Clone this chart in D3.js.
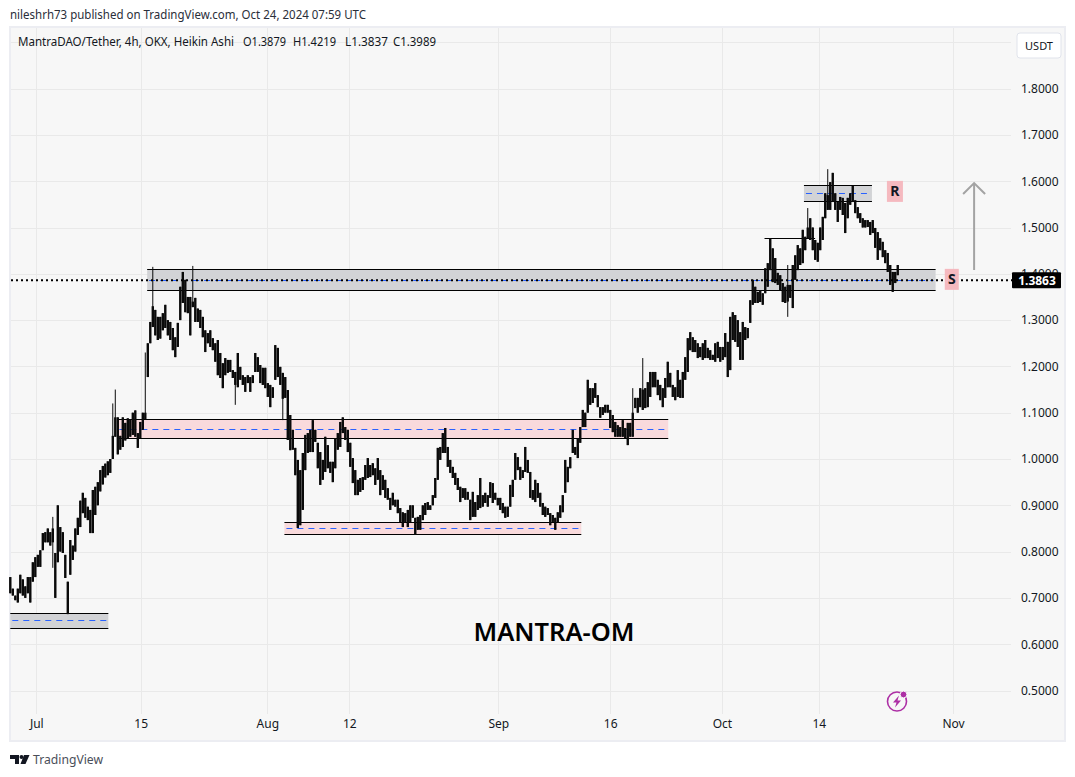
<!DOCTYPE html>
<html><head><meta charset="utf-8">
<script src="https://cdn.jsdelivr.net/npm/d3@7"></script>
<style>html,body{margin:0;padding:0;background:#fff}svg{display:block}text{font-family:"Noto Sans",sans-serif;fill:#131722}</style>
</head><body><svg id="c" width="1075" height="777"></svg>
<script>
const titleText = "nileshrh73 published on TradingView.com, Oct 24, 2024 07:59 UTC";
const legendText = "MantraDAO/Tether, 4h, OKX, Heikin Ashi";
const legendValues = ["O1.3879","H1.4219","L1.3837","C1.3989"];
const priceTicks = [1.8,1.7,1.6,1.5,1.4,1.3,1.2,1.1,1.0,0.9,0.8,0.7,0.6,0.5];
const gridPrices = [1.9].concat(priceTicks);
const dateTicks = ["2024-07-01","2024-07-15","2024-08-01","2024-08-12","2024-09-01","2024-09-16","2024-10-01","2024-10-14","2024-11-01"];
const dateLabels = ["Jul","15","Aug","12","Sep","16","Oct","14","Nov"];
const lastPrice = 1.3863;
const highs = [
.745,.72,.705,.72,.75,.74,.725,.745,.745,.777,
.788,.793,.803,.84,.842,.85,.842,.875,.797,.90,
.853,.842,.793,.735,.825,.813,.85,.873,.91,.927,
.916,.897,.89,.933,.94,.95,.976,.985,.99,.995,
1.0,1.12,1.15,1.09,1.05,1.09,1.078,1.088,1.085,1.10,
1.105,1.056,1.08,1.10,1.23,1.25,1.296,1.415,1.322,1.307,
1.307,1.315,1.333,1.30,1.296,1.283,1.263,1.294,1.372,1.404,
1.387,1.35,1.35,1.417,1.348,1.325,1.322,1.307,1.278,1.272,
1.278,1.261,1.25,1.257,1.229,1.207,1.218,1.214,1.214,1.192,
1.188,1.229,1.199,1.181,1.177,1.181,1.177,1.181,1.229,1.22,
1.203,1.197,1.197,1.164,1.16,1.155,1.246,1.24,1.199,1.186,
1.177,1.149,1.095,1.063,1.024,.998,.976,1.013,1.052,1.056,
1.063,1.084,1.063,1.035,1.015,.998,1.048,1.03,.994,.994,
1.045,1.056,1.08,1.09,1.069,1.063,1.035,1.002,.976,.955,
.959,.961,.987,1.002,.987,.991,.98,1.002,.976,.965,
.955,.937,.916,.927,.912,.912,.894,.885,.883,.89,
.90,.90,.873,.875,.879,.90,.905,.907,.90,.922,
.959,1.024,1.026,1.056,1.067,1.026,.998,.983,.97,.959,
.94,.937,.937,.929,.912,.929,.907,.922,.959,.922,
.927,.922,.95,.948,.927,.916,.916,.905,.897,.897,
.944,.955,1.013,1.004,.983,.976,1.026,.998,.972,.933,
.955,.948,.927,.905,.897,.894,.883,.879,.873,.885,
.90,.922,.998,.983,1.004,1.063,1.026,1.045,1.069,1.106,
1.10,1.171,1.153,1.153,1.164,1.138,1.112,1.112,1.117,1.117,
1.106,1.095,1.08,1.073,1.069,1.084,1.067,1.078,1.078,1.153,
1.132,1.132,1.153,1.218,1.153,1.166,1.188,1.188,1.188,1.171,
1.16,1.153,1.175,1.21,1.186,1.16,1.155,1.192,1.171,1.188,
1.22,1.261,1.274,1.263,1.257,1.25,1.242,1.25,1.257,1.24,
1.235,1.225,1.25,1.253,1.242,1.242,1.272,1.253,1.307,1.317,
1.311,1.30,1.274,1.296,1.285,1.283,1.343,1.387,1.372,1.361,
1.365,1.358,1.412,1.423,1.477,1.455,1.434,1.402,1.397,1.38,
1.372,1.419,1.376,1.419,1.44,1.462,1.455,1.495,1.48,1.542,
1.52,1.50,1.473,1.467,1.50,1.523,1.574,1.626,1.598,1.618,
1.574,1.555,1.566,1.564,1.553,1.564,1.574,1.59,1.559,1.544,
1.531,1.52,1.516,1.516,1.512,1.516,1.499,1.49,1.477,1.469,
1.451,1.445,1.419,1.404,1.404,1.419];
const lows = [
.71,.705,.695,.69,.71,.705,.70,.71,.69,.735,
.745,.767,.767,.803,.82,.82,.813,.765,.70,.777,
.80,.797,.743,.665,.75,.782,.80,.836,.853,.883,
.873,.868,.84,.84,.879,.90,.93,.945,.96,.965,
.97,1.0,1.048,1.01,1.02,1.026,1.04,1.045,1.048,1.052,
1.048,1.024,1.045,1.063,1.085,1.177,1.25,1.285,1.267,1.257,
1.26,1.278,1.283,1.267,1.257,1.235,1.22,1.242,1.30,1.337,
1.317,1.315,1.267,1.328,1.296,1.296,1.283,1.263,1.231,1.25,
1.242,1.235,1.21,1.181,1.175,1.153,1.181,1.186,1.188,1.175,
1.117,1.155,1.171,1.16,1.145,1.164,1.145,1.164,1.188,1.188,
1.164,1.16,1.153,1.134,1.112,1.132,1.171,1.177,1.16,1.084,
1.132,1.041,1.019,1.02,.965,.851,.857,.89,.976,1.013,
1.015,1.015,1.037,.98,.944,.955,.972,.98,.97,.95,
.98,1.02,1.026,1.056,1.041,1.015,.983,.948,.922,.922,
.929,.933,.955,.959,.961,.965,.944,.955,.922,.933,
.916,.912,.89,.90,.897,.883,.864,.853,.862,.853,
.864,.873,.836,.847,.847,.868,.879,.89,.89,.90,
.916,.955,.998,1.013,1.013,.983,.97,.959,.944,.933,
.907,.916,.912,.912,.868,.875,.875,.89,.894,.897,
.905,.897,.916,.905,.912,.90,.89,.883,.873,.875,
.897,.918,.955,.976,.955,.959,.972,.97,.916,.912,
.907,.916,.897,.879,.875,.879,.857,.864,.847,.862,
.873,.885,.927,.95,.98,1.013,1.009,1.002,1.035,1.069,
1.069,1.10,1.117,1.121,1.132,1.112,1.089,1.095,1.10,1.10,
1.067,1.058,1.048,1.048,1.048,1.048,1.045,1.03,1.048,1.048,
1.11,1.10,1.112,1.106,1.11,1.112,1.134,1.155,1.155,1.138,
1.127,1.112,1.132,1.155,1.155,1.134,1.127,1.134,1.132,1.132,
1.171,1.188,1.235,1.231,1.231,1.218,1.22,1.214,1.218,1.218,
1.214,1.214,1.21,1.218,1.21,1.214,1.22,1.177,1.192,1.257,
1.253,1.242,1.214,1.214,1.257,1.261,1.294,1.333,1.337,1.337,
1.339,1.333,1.358,1.372,1.408,1.382,1.38,1.376,1.365,1.339,
1.337,1.307,1.348,1.326,1.387,1.408,1.419,1.423,1.451,1.477,
1.473,1.451,1.43,1.426,1.451,1.473,1.52,1.538,1.538,1.555,
1.538,1.512,1.538,1.527,1.488,1.52,1.549,1.555,1.531,1.52,
1.51,1.50,1.50,1.501,1.484,1.488,1.456,1.43,1.451,1.436,
1.423,1.404,1.376,1.361,1.38,1.397];
// bars whose range is mostly a thin wick: index, top of body, bottom of body
const wickBars = [17,41,42,54,57,73,90,109,249,253,311,319,327];
const wickBodyTops = [.85,1.05,1.09,1.10,1.33,1.34,1.188,1.186,1.10,1.15,1.376,1.50,1.57];
const wickBodyBottoms = [.82,1.0,1.048,1.085,1.285,1.328,1.16,1.13,1.048,1.106,1.34,1.477,1.538];
const firstBar = Date.UTC(2024,5,27,12,17), barHours = 8.05;
const zoneStarts = ["2024-07-15T21:00Z","2024-10-12T00:00Z","2024-07-11T21:00Z","2024-08-03T07:00Z","2024-06-27T12:17Z"];
const zoneEnds = ["2024-10-29T16:00Z","2024-10-21T03:00Z","2024-09-23T19:00Z","2024-09-12T03:00Z","2024-07-10T16:00Z"];
const zoneTops = [1.41,1.592,1.086,.864,.667];
const zoneMids = [1.387,1.575,1.065,.851,.652];
const zoneBottoms = [1.365,1.557,1.045,.838,.635];
const zoneKinds = ["grey","grey","pink","pink","grey"];
const zoneFill = {grey:"#d2d3d6",pink:"#f9dadc"};

const svg = d3.select("#c");
const x = d3.scaleUtc().domain([new Date("2024-07-01"),new Date("2024-11-01")]).range([36.3,953]);
const y = d3.scaleLinear().domain([1,1.8]).range([459,88.6]);
const py = p => Math.round(y(p))+.5;
const barX = i => x(new Date(firstBar+i*barHours*36e5));

svg.append("text").attr("x",10).attr("y",19).attr("font-size",12).attr("textLength",356).attr("lengthAdjust","spacingAndGlyphs").style("fill","#2a2e39").text(titleText);
svg.append("rect").attr("x",10).attr("y",27).attr("width",1055).attr("height",714).attr("fill","#f7f7f7").attr("stroke","#ecedf2").attr("stroke-width",2);

const grid = svg.append("g").attr("stroke","#e9e9e9").attr("stroke-width",1);
grid.selectAll(".h").data(gridPrices).join("line").attr("x1",11).attr("x2",1011).attr("y1",py).attr("y2",py);
grid.selectAll(".v").data(dateTicks).join("line").attr("x1",d=>Math.round(x(new Date(d)))+.5).attr("x2",d=>Math.round(x(new Date(d)))+.5).attr("y1",28).attr("y2",714);

const zones = zoneStarts.map((s,i)=>({x0:x(new Date(s)),x1:x(new Date(zoneEnds[i])),t:py(zoneTops[i]),m:py(zoneMids[i]),b:py(zoneBottoms[i]),k:zoneKinds[i]}));
const zg = svg.append("g");
zg.selectAll("rect").data(zones).join("rect").attr("x",d=>d.x0).attr("width",d=>d.x1-d.x0).attr("y",d=>d.t).attr("height",d=>d.b-d.t).attr("fill",d=>zoneFill[d.k]);
zg.selectAll(".m").data(zones).join("line").attr("x1",d=>d.x0+2).attr("x2",d=>d.x1-2).attr("y1",d=>d.m).attr("y2",d=>d.m).attr("stroke","#2962ff").attr("stroke-dasharray","6 5");
["t","b"].forEach(k=>{zg.selectAll(".e"+k).data(zones).join("line").attr("x1",d=>d.x0).attr("x2",d=>d.x1).attr("y1",d=>d[k]).attr("y2",d=>d[k]).attr("stroke","#000").attr("stroke-width",1.2);});

svg.append("line").attr("x1",x(new Date("2024-10-06T17:00Z"))).attr("x2",x(new Date("2024-10-13T12:00Z"))).attr("y1",py(1.477)).attr("y2",py(1.477)).attr("stroke","#000").attr("stroke-width",1.2);

const bodyTop = highs.slice(), bodyBottom = lows.slice();
wickBars.forEach((b,i)=>{bodyTop[b]=wickBodyTops[i];bodyBottom[b]=wickBodyBottoms[i];});
svg.append("g").attr("stroke","#0a0a0a").attr("stroke-width",1).selectAll("line").data(highs).join("line")
 .attr("x1",(d,i)=>barX(i)).attr("x2",(d,i)=>barX(i)).attr("y1",d=>y(d)).attr("y2",(d,i)=>y(lows[i]));
svg.append("g").attr("stroke","#0a0a0a").attr("stroke-width",2.4).selectAll("line").data(bodyTop).join("line")
 .attr("x1",(d,i)=>barX(i)).attr("x2",(d,i)=>barX(i)).attr("y1",d=>y(d)).attr("y2",(d,i)=>y(bodyBottom[i]));

svg.append("line").attr("x1",11).attr("x2",1012).attr("y1",y(lastPrice)).attr("y2",y(lastPrice)).attr("stroke","#000").attr("stroke-width",2).attr("stroke-dasharray","2 3");

const yAxis = svg.append("g").attr("transform","translate(1021,0)").call(d3.axisRight(y).tickValues(priceTicks).tickFormat(d3.format(".4f")).tickSize(0).tickPadding(0));
yAxis.select(".domain").remove();
yAxis.selectAll("text").attr("font-size",12).style("font-family",'"Noto Sans",sans-serif').style("fill","#131722");
const xAxis = svg.append("g").attr("transform","translate(0,713)").call(d3.axisBottom(x).tickValues(dateTicks.map(d=>new Date(d))).tickFormat((d,i)=>dateLabels[i]).tickSize(0).tickPadding(6));
xAxis.select(".domain").remove();
xAxis.selectAll("text").attr("font-size",12).style("font-family",'"Noto Sans",sans-serif').style("fill","#131722");

svg.append("rect").attr("x",1012).attr("y",y(lastPrice)-8).attr("width",49).attr("height",16).attr("fill","#000").attr("rx",1);
svg.append("text").attr("x",1037).attr("y",y(lastPrice)+4.5).attr("text-anchor","middle").attr("font-size",12).attr("font-weight",700).style("fill","#fff").text(d3.format(".4f")(lastPrice));

svg.append("rect").attr("x",1017).attr("y",33).attr("width",44).attr("height",25).attr("rx",3).attr("fill","#fff").attr("stroke","#e0e3eb");
svg.append("text").attr("x",1039).attr("y",49.5).attr("text-anchor","middle").attr("font-size",11).text("USDT");

const leg = svg.append("g");
leg.append("text").attr("x",18).attr("y",46).attr("font-size",12).attr("textLength",216).attr("lengthAdjust","spacingAndGlyphs").text(legendText);
leg.selectAll(".lv").data(legendValues).join("text").attr("x",(d,i)=>[243,293,345,393][i]).attr("y",46).attr("font-size",12).attr("textLength",43).attr("lengthAdjust","spacingAndGlyphs").text(d=>d);

[["R",new Date("2024-10-24T05:00Z"),1.578,16,21],["S",new Date("2024-10-31T20:00Z"),1.388,14,21]].forEach(([t,d,p,w,h])=>{
 svg.append("rect").attr("x",x(d)-w/2).attr("y",y(p)-h/2).attr("width",w).attr("height",h).attr("fill","#f5b9bf");
 svg.append("text").attr("x",x(d)).attr("y",y(p)+5).attr("text-anchor","middle").attr("font-size",14).attr("font-weight",700).text(t);
});

const ax = x(new Date("2024-11-03T20:00Z")), at = y(1.596), ab = y(1.408);
svg.append("path").attr("d",`M${ax},${ab}V${at}M${ax-11},${at+11}L${ax},${at}L${ax+11},${at+11}`).attr("fill","none").attr("stroke","#a3a3a3").attr("stroke-width",2);

svg.append("text").attr("x",554).attr("y",641).attr("text-anchor","middle").attr("font-size",26).attr("font-weight",600).attr("textLength",161).attr("lengthAdjust","spacingAndGlyphs").style("fill","#000").text("MANTRA-OM");

const ic = svg.append("g").attr("transform","translate(897,701.5)");
ic.append("circle").attr("r",9.5).attr("fill","none").attr("stroke","#ad2fa5").attr("stroke-width",1.6);
ic.append("circle").attr("cx",6.5).attr("cy",-7).attr("r",3.4).attr("fill","#ad2fa5").attr("stroke","#f7f7f7");
ic.append("path").attr("d","M2,-6L-4,1H-0.5L-2,6L4,-1H0.5Z").attr("fill","#ad2fa5");

const tv = svg.append("g").attr("fill","#131722");
tv.append("path").attr("d","M10,755H19V764H15V759H10Z");
tv.append("circle").attr("cx",21.5).attr("cy",757).attr("r",2);
tv.append("path").attr("d","M24,755H29.5L25.5,764H20.5Z");
svg.append("text").attr("x",33).attr("y",764).attr("font-size",13).attr("textLength",70).attr("lengthAdjust","spacingAndGlyphs").style("fill","#4a4e59").text("TradingView");
</script></body></html>
